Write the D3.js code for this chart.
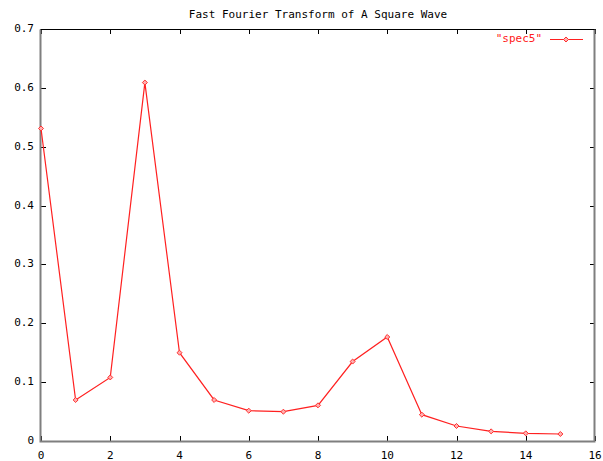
<!DOCTYPE html>
<html>
<head>
<meta charset="utf-8">
<script src="https://cdn.jsdelivr.net/npm/d3@7"></script>
<style>
  body { margin: 0; background: #fff; }
  svg text { font-family: "DejaVu Sans Mono", "Liberation Mono", monospace; font-size: 11px; }
</style>
</head>
<body>
<svg id="chart" width="603" height="461"></svg>
<script>
// data
const freq = [0, 1, 2, 3, 4, 5, 6, 7, 8, 9, 10, 11, 12, 13, 14, 15];
const spec5 = [0.531, 0.0697, 0.108, 0.609, 0.150, 0.0697, 0.0515, 0.0498, 0.0606, 0.135, 0.1767, 0.0447, 0.0255, 0.0164, 0.013, 0.0119];
const x_ticks = [0, 2, 4, 6, 8, 10, 12, 14, 16];
const y_ticks = [0, 0.1, 0.2, 0.3, 0.4, 0.5, 0.6, 0.7];
const title = "Fast Fourier Transform of A Square Wave";
const series_name = "\"spec5\"";

const svg = d3.select("#chart");
const width = 603;
const height = 461;
const margins = { top: 29, right: 8, bottom: 20, left: 41 };

const x_scale = d3.scaleLinear()
    .domain([0, 16])
    .range([margins.left, width - margins.right]);

const y_scale = d3.scaleLinear()
    .domain([0, 0.7])
    .range([height - margins.bottom, margins.top]);

const tick_len = 5;
const gray = "#7f7f7f";

// title
svg.append("text")
    .attr("x", (x_scale(0) + x_scale(16)) / 2)
    .attr("y", 15)
    .attr("text-anchor", "middle")
    .attr("dominant-baseline", "middle")
    .text(title);

// ticks (mirrored, pointing inward)
const ticks = svg.append("g").attr("stroke", "black").attr("stroke-width", 1);
x_ticks.forEach(t => {
    const x = Math.round(x_scale(t)) + 0.5;
    ticks.append("line").attr("x1", x).attr("x2", x)
        .attr("y1", y_scale(0)).attr("y2", y_scale(0) - tick_len);
    ticks.append("line").attr("x1", x).attr("x2", x)
        .attr("y1", y_scale(0.7)).attr("y2", y_scale(0.7) + tick_len);
});
y_ticks.forEach(t => {
    const y = Math.round(y_scale(t)) + 0.5;
    ticks.append("line").attr("y1", y).attr("y2", y)
        .attr("x1", x_scale(0)).attr("x2", x_scale(0) + tick_len);
    ticks.append("line").attr("y1", y).attr("y2", y)
        .attr("x1", x_scale(16)).attr("x2", x_scale(16) - tick_len);
});

// tick labels
svg.append("g")
    .selectAll("text")
    .data(x_ticks)
    .join("text")
    .attr("x", d => x_scale(d))
    .attr("y", height - margins.bottom + 15)
    .attr("text-anchor", "middle")
    .attr("dominant-baseline", "middle")
    .text(d => d);

svg.append("g")
    .selectAll("text")
    .data(y_ticks)
    .join("text")
    .attr("x", margins.left - 7)
    .attr("y", d => y_scale(d))
    .attr("text-anchor", "end")
    .attr("dominant-baseline", "middle")
    .text(d => d === 0 ? "0" : d3.format(".1f")(d));

// border: gray left/right/bottom, black top
const x0 = Math.round(x_scale(0)) - 0.5, x1 = Math.round(x_scale(16)) - 0.5;
const y0 = Math.round(y_scale(0)) + 0.5, y1 = Math.round(y_scale(0.7)) + 0.5;
svg.append("path")
    .attr("d", `M${x0},${y1}V${y0}H${x1}V${y1}`)
    .attr("fill", "none")
    .attr("stroke", gray)
    .attr("stroke-width", 2);
svg.append("line")
    .attr("x1", x0).attr("x2", x1)
    .attr("y1", y1).attr("y2", y1)
    .attr("stroke", "black");

// series
const pts = freq.map((f, i) => [f, spec5[i]]);
const line = d3.line()
    .x(d => x_scale(d[0]))
    .y(d => y_scale(d[1]));

svg.append("path")
    .datum(pts)
    .attr("d", line)
    .attr("fill", "none")
    .attr("stroke", "#ff2020")
    .attr("stroke-width", 1.2);

const marker = d3.symbol().type(d3.symbolDiamond2).size(16);
svg.append("g")
    .selectAll("path")
    .data(pts)
    .join("path")
    .attr("transform", d => `translate(${x_scale(d[0])},${y_scale(d[1])})`)
    .attr("d", marker)
    .attr("fill", "#ffb0b0")
    .attr("stroke", "#ff3030")
    .attr("stroke-width", 1);

// legend
const legend = svg.append("g");
legend.append("text")
    .attr("x", 542)
    .attr("y", 39)
    .attr("text-anchor", "end")
    .attr("dominant-baseline", "middle")
    .attr("fill", "#ff2020")
    .text(series_name);
legend.append("line")
    .attr("x1", 550).attr("x2", 583)
    .attr("y1", 39.5).attr("y2", 39.5)
    .attr("stroke", "#ff2020")
    .attr("stroke-width", 1.2);
legend.append("path")
    .attr("transform", "translate(566,39.5)")
    .attr("d", marker)
    .attr("fill", "#ffb0b0")
    .attr("stroke", "#ff3030");
</script>
</body>
</html>
